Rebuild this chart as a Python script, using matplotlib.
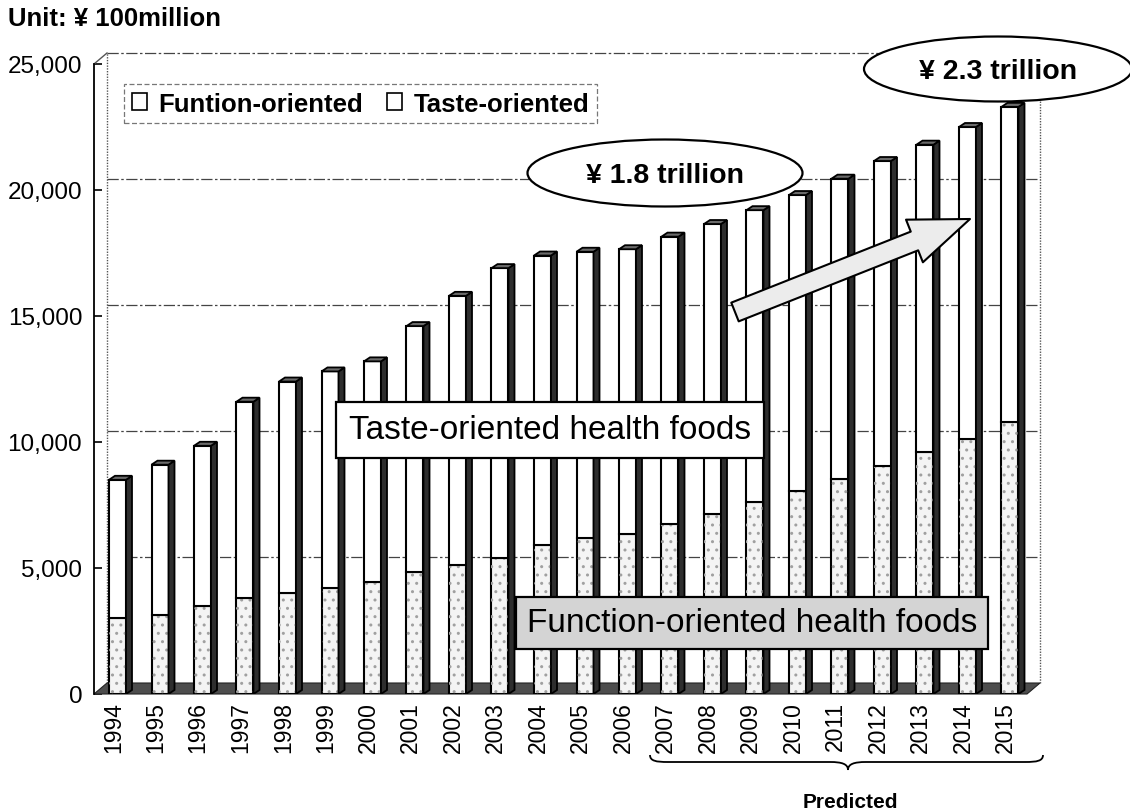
import matplotlib
matplotlib.use('Agg')
from matplotlib import pyplot as plt
from matplotlib.patches import Polygon, Ellipse, Patch, PathPatch, FancyArrowPatch
from matplotlib.path import Path

"""Health food market size, 3D-look stacked bars (Excel style)"""

years = [str(y) for y in range(1994, 2016)]
# unit: 100 million yen
function_vals = [3000, 3150, 3500, 3800, 4000, 4200, 4450, 4850, 5100, 5400, 5900,
                 6200, 6350, 6750, 7150, 7600, 8050, 8550, 9050, 9600, 10100, 10800]
total_vals = [8500, 9100, 9850, 11600, 12400, 12800, 13200, 14600, 15800, 16900, 17400,
              17550, 17650, 18150, 18650, 19200, 19800, 20450, 21150, 21800, 22500, 23300]
taste_vals = [t - f for t, f in zip(total_vals, function_vals)]
yticks = [0, 5000, 10000, 15000, 20000, 25000]
legend_labels = ['Funtion-oriented', 'Taste-oriented']

plt.rcParams['font.family'] = ['Liberation Sans', 'DejaVu Sans']

W, H = 1130, 812


def fp(px, py):
    """image pixel -> figure fraction"""
    return px / W, 1 - py / H


fig = plt.figure(figsize=(W / 100, H / 100), dpi=100)
ax = fig.add_axes([94 / W, (H - 695) / H, (1040 - 94) / W, (695 - 65) / H])
xmin, xmax = (94 - 117.5) / 42.5, (1040 - 117.5) / 42.5
ax.set_xlim(xmin, xmax)
ax.set_ylim(0, 25000)

ux = 1 / 42.5          # one pixel in x data units
uy = 25000 / 630       # one pixel in y data units
wall_dx, wall_dy = 13 * ux, 11 * uy
bar_dx, bar_dy = 6 * ux, 4 * uy
bw = 0.4
x = list(range(len(years)))

# back wall frame + gridlines
grid_style = dict(color='#444444', lw=0.9, linestyle=(0, (9, 2, 2, 2)), clip_on=False, zorder=1)
for v in yticks[1:]:
    ax.plot([xmin + wall_dx, xmax], [v + wall_dy, v + wall_dy], **grid_style)
wall_style = dict(color='#555555', lw=1.0, linestyle=(0, (1, 1)), clip_on=False, zorder=1)
ax.plot([xmin + wall_dx, xmin + wall_dx], [wall_dy, 25000 + wall_dy], **wall_style)
ax.plot([xmax, xmax], [wall_dy, 25000 + wall_dy], **wall_style)
ax.plot([xmin, xmin + wall_dx], [25000, 25000 + wall_dy], color='#555555', lw=1.0, clip_on=False)

# floor
floor = Polygon([(xmin, 0), (xmax - wall_dx, 0), (xmax, wall_dy), (xmin + wall_dx, wall_dy)],
                closed=True, facecolor='#4d4d4d', edgecolor='#222222', lw=0.8, clip_on=False, zorder=2)
ax.add_patch(floor)

# bars: front faces
ax.bar(x, function_vals, width=bw, color='#f4f4f4', edgecolor='black', lw=1.5, zorder=3)
ax.bar(x, function_vals, width=bw, color='none', edgecolor='#a0a0a0', lw=0, hatch='..', zorder=3)
ax.bar(x, taste_vals, bottom=function_vals, width=bw, color='white', edgecolor='black', lw=1.5, zorder=3)

# bars: side and top faces
for xi, tot in zip(x, total_vals):
    xr = xi + bw / 2
    xl = xi - bw / 2
    side = Polygon([(xr, 0), (xr + bar_dx, bar_dy), (xr + bar_dx, tot + bar_dy), (xr, tot)],
                   closed=True, facecolor='#2e2e2e', edgecolor='black', lw=1.3, zorder=3)
    top = Polygon([(xl, tot), (xl + bar_dx, tot + bar_dy), (xr + bar_dx, tot + bar_dy), (xr, tot)],
                  closed=True, facecolor='#6a6a6a', edgecolor='black', lw=1.3, zorder=3)
    ax.add_patch(side)
    ax.add_patch(top)

# axes look
for s in ['top', 'right', 'bottom']:
    ax.spines[s].set_visible(False)
ax.spines['left'].set_linewidth(1.3)
ax.set_yticks(yticks)
ax.set_yticklabels(['{:,}'.format(v) for v in yticks])
ax.tick_params(axis='y', direction='in', length=6, width=1.2, pad=8.5, labelsize=17.5)
ax.set_xticks([xi - 0.1 for xi in x])
ax.set_xticklabels(years, rotation=90, fontsize=16.5)
ax.tick_params(axis='x', length=0, pad=5)

# legend
handles = [Patch(facecolor='white', edgecolor='black', lw=1.2) for _ in legend_labels]
leg = ax.legend(handles, legend_labels, ncol=2, loc='upper left',
                bbox_to_anchor=fp(124, 85), bbox_transform=fig.transFigure, borderaxespad=0,
                prop={'weight': 'bold', 'size': 18.5}, handlelength=0.6, handleheight=0.6,
                handletextpad=0.45, columnspacing=0.9, fancybox=False, borderpad=0.3)
leg.get_frame().set_edgecolor('#555555')
leg.get_frame().set_linestyle((0, (4, 2)))
leg.get_frame().set_linewidth(0.9)

fig.text(8 / W, 1 - 19 / H, 'Unit: ¥ 100million', fontsize=18.5, fontweight='bold', va='center', ha='left')

# callouts
fig.text(*fp(550, 431), 'Taste-oriented health foods', fontsize=24, ha='center', va='center', zorder=6,
         bbox=dict(boxstyle='square,pad=0.38', fc='white', ec='black', lw=1.6))
fig.text(*fp(752, 624), 'Function-oriented health foods', fontsize=24, ha='center', va='center', zorder=6,
         bbox=dict(boxstyle='square,pad=0.32', fc='#d4d4d4', ec='black', lw=1.6))

for cx, cy, w, h, label in [(665, 174, 275, 67, '¥ 1.8 trillion'), (998, 70, 268, 65, '¥ 2.3 trillion')]:
    e = Ellipse(fp(cx, cy), w / W, h / H, transform=fig.transFigure,
                facecolor='white', edgecolor='black', lw=1.6, zorder=5)
    fig.add_artist(e)
    fig.text(*fp(cx, cy + 2), label, fontsize=20.5, fontweight='bold', ha='center', va='center', zorder=6)

arrow = FancyArrowPatch(fp(735, 313), fp(970, 220), transform=fig.transFigure,
                        arrowstyle='simple,head_length=4.3,head_width=3.3,tail_width=1.45',
                        mutation_scale=10, facecolor='#ececec', edgecolor='black', lw=1.5,
                        shrinkA=0, shrinkB=0, zorder=5)
fig.add_artist(arrow)

# brace under the predicted years
pts = [(650, 756), (650, 762), (656, 763), (668, 763), (830, 763),
       (842, 763), (848, 765), (848, 771), (848, 765), (854, 763), (866, 763),
       (1025, 763), (1037, 763), (1043, 762), (1043, 756)]
codes = [Path.MOVETO, Path.CURVE4, Path.CURVE4, Path.CURVE4, Path.LINETO,
         Path.CURVE4, Path.CURVE4, Path.CURVE4, Path.CURVE4, Path.CURVE4, Path.CURVE4,
         Path.LINETO, Path.CURVE4, Path.CURVE4, Path.CURVE4]
brace = PathPatch(Path([fp(*p) for p in pts], codes), transform=fig.transFigure,
                  facecolor='none', edgecolor='black', lw=1.3)
fig.add_artist(brace)
fig.text(*fp(850, 803), 'Predicted', fontsize=15, fontweight='bold', ha='center', va='center')

fig.savefig('out.png', dpi=100)
plt.close()
